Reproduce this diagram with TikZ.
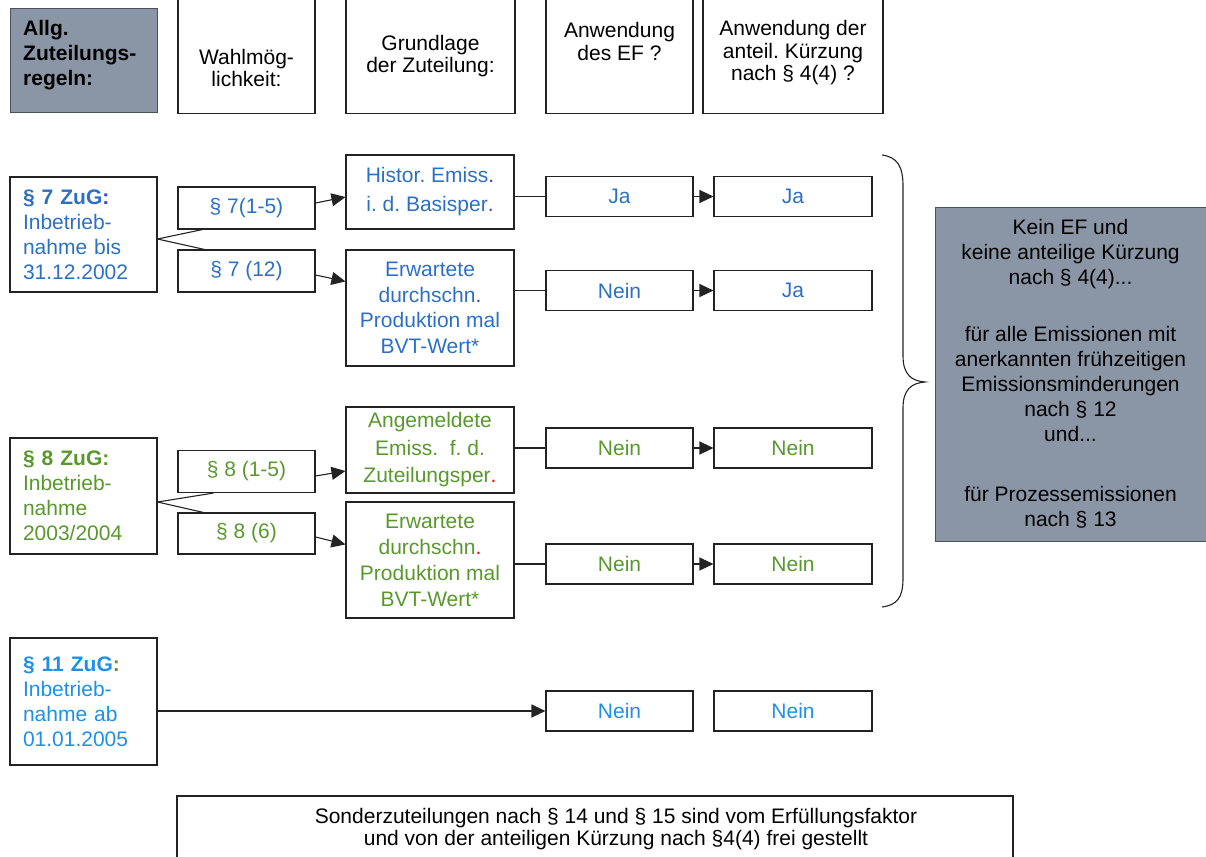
\documentclass[tikz,border=0pt]{standalone}
\usepackage{fontspec}
\setmainfont{Liberation Sans}
\usetikzlibrary{arrows.meta,calc}
\definecolor{bl}{RGB}{43,112,198}
\definecolor{blv}{RGB}{70,60,200}
\definecolor{bll}{RGB}{30,144,232}
\definecolor{gr}{RGB}{88,152,44}
\definecolor{gfill}{RGB}{138,150,165}
\definecolor{ln}{RGB}{35,35,35}
\frenchspacing
\begin{document}
\frenchspacing
\begin{tikzpicture}[x=1pt,y=-1pt,
  box/.style={draw=ln,line width=1.1pt,inner sep=0pt,align=center,font=\fontsize{21}{25}\selectfont},
  hbox/.style={draw=ln,line width=1.1pt,inner sep=0pt},
  lbox/.style={draw=ln,line width=1.1pt,inner ysep=0pt,inner xsep=13pt,text width=121pt,align=left,font=\fontsize{21}{25}\selectfont},
  htext/.style={inner sep=0pt,align=center,font=\fontsize{21}{22.5}\selectfont},
  gbox/.style={draw=gfill!55!black,line width=1pt,fill=gfill,inner sep=0pt,align=center,font=\fontsize{21}{25}\selectfont},
  con/.style={draw=ln,line width=1.1pt},
  arr/.style={draw=ln,line width=1.1pt,-{Triangle[length=14pt,width=13pt]}},
  ef/.style={box,minimum width=147pt,minimum height=40pt},
  an/.style={box,minimum width=158pt,minimum height=40pt}
]
\useasboundingbox (0,0) rectangle (1206,856);
\clip (0,0) rectangle (1206,856);

% header
\node[gbox,minimum width=147pt,minimum height=104pt] (hallg) at (83.5,61) {};
\node[inner sep=0pt,align=left,anchor=west,font=\fontsize{21}{25}\selectfont\bfseries] (tallg) at (23,55) {Allg.\\Zuteilungs-\\regeln:};
\node[hbox,minimum width=137pt,minimum height=124pt] (hwahl) at (246.5,51.5) {};
\node[htext] (twahl) at (246.5,68) {Wahlmög-\\lichkeit:};
\node[hbox,minimum width=169pt,minimum height=124pt] (hgrund) at (430.5,51.5) {};
\node[htext] (tgrund) at (430.5,56) {Grundlage\\der Zuteilung:};
\node[hbox,minimum width=147pt,minimum height=124pt] (hef) at (619.5,51.5) {};
\node[htext] (tef) at (619.5,41.5) {Anwendung\\des EF ?};
\node[hbox,minimum width=180pt,minimum height=124pt] (hant) at (793,51.5) {};
\node[htext] (tant) at (793,53) {Anwendung der\\anteil. Kürzung\\nach § 4(4) ?};

% row 7
\node[lbox,minimum height=115pt,text=bl] (z7) at (83.5,234.5) {{\bfseries § 7 ZuG{\color{blv}:}}\\Inbetrieb-\\nahme bis\\31.12.2002};
\node[box,minimum width=137pt,minimum height=42pt,text=bl] (a7) at (246.5,208) {§ 7(1-5)};
\node[box,minimum width=137pt,minimum height=42pt,text=bl] (b7) at (246.5,271) {§ 7 (12)};
\node[box,minimum width=168pt,minimum height=74pt,text=bl,font=\fontsize{21}{29}\selectfont] (h7) at (430,192) {Histor. Emiss{\color{blv}.}\\i. d. Basisper{\color{blv}.}};
\node[box,minimum width=168pt,minimum height=116pt,text=bl,font=\fontsize{21}{25.5}\selectfont] (e7) at (430,308) {Erwartete\\durchschn{\color{blv}.}\\Produktion mal\\BVT-Wert*};
\node[ef,text=bl] (ef7a) at (619.5,196.5) {Ja};
\node[an,text=bl] (an7a) at (793,196.5) {Ja};
\node[ef,text=bl] (ef7b) at (619.5,290.5) {Nein};
\node[an,text=bl] (an7b) at (793,290.5) {Ja};

% row 8
\node[lbox,minimum height=116pt,text=gr] (z8) at (83.5,496) {{\bfseries § 8 ZuG:}\\Inbetrieb-\\nahme\\2003/2004};
\node[box,minimum width=137pt,minimum height=42pt,text=gr] (a8) at (246.5,471.5) {§ 8 (1-5)};
\node[box,minimum width=137pt,minimum height=41pt,text=gr] (b8) at (246.5,533.5) {§ 8 (6)};
\node[box,minimum width=168pt,minimum height=86pt,text=gr,font=\fontsize{21}{27.5}\selectfont] (h8) at (430,450) {Angemeldete\\Emiss.\ \ f. d.\\Zuteilungsper{\color{red}.}};
\node[box,minimum width=168pt,minimum height=116pt,text=gr,font=\fontsize{21}{26}\selectfont] (e8) at (430,560) {Erwartete\\durchschn{\color{red}.}\\Produktion mal\\BVT-Wert*};
\node[ef,text=gr] (ef8a) at (619.5,448) {Nein};
\node[an,text=gr] (an8a) at (793,448) {Nein};
\node[ef,text=gr] (ef8b) at (619.5,564) {Nein};
\node[an,text=gr] (an8b) at (793,564) {Nein};

% row 11
\node[lbox,minimum height=127pt,text=bll] (z11) at (83.5,701.5) {{\bfseries § 11 ZuG{\color{gr}:}}\\Inbetrieb-\\nahme ab\\01.01.2005};
\node[ef,text=bll] (ef11) at (619.5,711) {Nein};
\node[an,text=bll] (an11) at (793,711) {Nein};

% right summary
\node[gbox,minimum width=271pt,minimum height=334pt] (sum) at (1070.5,374) {Kein EF und\\keine anteilige Kürzung\\nach § 4(4)...\\[32pt]für alle Emissionen mit\\anerkannten frühzeitigen\\Emissionsminderungen\\nach § 12\\und...\\[35pt]für Prozessemissionen\\nach § 13};

% bottom note
\node[hbox,minimum width=836pt,minimum height=80pt] (note) at (595,836) {};
\node[htext,font=\fontsize{21}{22}\selectfont] (tnote) at (616,829) {Sonderzuteilungen nach § 14 und § 15 sind vom Erfüllungsfaktor\\und von der anteiligen Kürzung nach §4(4) frei gestellt};

% brace
\draw[ln,line width=1.1pt] (882,155) .. controls (897,157) and (903,166) .. (903,186) -- (903,356) .. controls (903,375) and (912,381) .. (925,382) .. controls (912,383) and (903,389) .. (903,408) -- (903,578) .. controls (903,598) and (897,605) .. (882,607);

% connectors row 7
\coordinate (o7) at ($(z7.east)+(0,4.5)$);
\draw[con] (o7) -- ($(a7.south west)+(25,0)$);
\draw[con] (o7) -- ($(b7.north west)+(27,0)$);
\draw[arr] ($(a7.east)+(0,-5)$) -- ($(h7.west)+(0,5)$);
\draw[arr] ($(b7.east)+(0,4)$) -- ($(e7.north west)+(0,32)$);
\draw[con] (h7.east |- ef7a.west) -- (ef7a.west);
\draw[con] (e7.east |- ef7b.west) -- (ef7b.west);
\draw[arr] (ef7a.east) -- (an7a.west);
\draw[arr] (ef7b.east) -- (an7b.west);

% connectors row 8
\coordinate (o8) at ($(z8.east)+(0,6)$);
\draw[con] (o8) -- ($(a8.south west)+(36,0)$);
\draw[con] (o8) -- ($(b8.north west)+(26,0)$);
\draw[arr] ($(a8.east)+(0,4.5)$) -- ($(h8.west)+(0,21)$);
\draw[arr] ($(b8.east)+(0,3.5)$) -- ($(e8.north west)+(0,43)$);
\draw[con] (h8.east |- ef8a.west) -- (ef8a.west);
\draw[con] (e8.east |- ef8b.west) -- (ef8b.west);
\draw[arr] (ef8a.east) -- (an8a.west);
\draw[arr] (ef8b.east) -- (an8b.west);

% connector row 11
\draw[arr] (z11.east |- ef11.west) -- (ef11.west);
\end{tikzpicture}
\end{document}
